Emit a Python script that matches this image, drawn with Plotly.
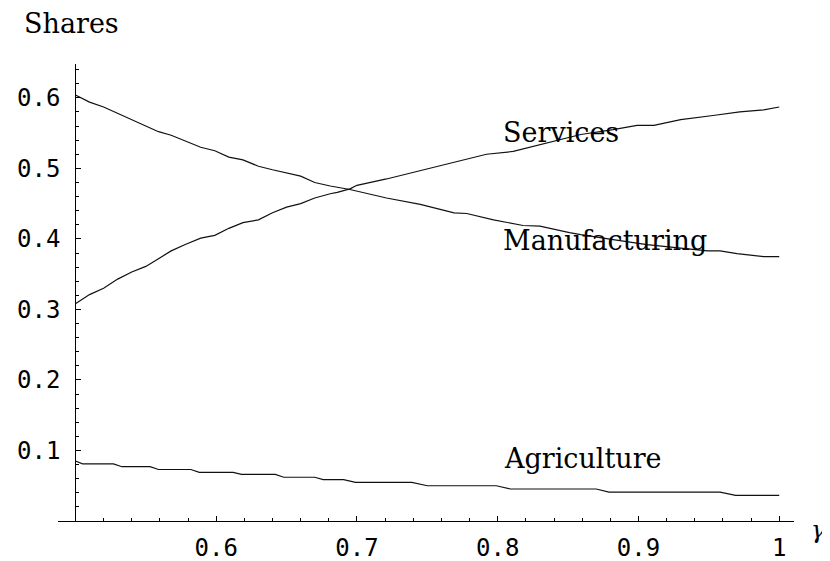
import plotly.graph_objects as go

# ---- data ----
mfg_gamma = [0.500, 0.510, 0.520, 0.530, 0.540, 0.550, 0.559, 0.568, 0.578, 0.589,
             0.599, 0.609, 0.619, 0.630, 0.640, 0.650, 0.660, 0.670, 0.681, 0.695,
             0.721, 0.745, 0.769, 0.778, 0.797, 0.818, 0.830, 0.851, 0.859, 0.882,
             0.906, 0.930, 0.949, 0.958, 0.970, 0.989, 1.000]
mfg_share = [0.604, 0.594, 0.587, 0.578, 0.569, 0.560, 0.552, 0.547, 0.539, 0.530,
             0.525, 0.516, 0.512, 0.503, 0.498, 0.493, 0.489, 0.480, 0.475, 0.470,
             0.458, 0.449, 0.437, 0.436, 0.427, 0.419, 0.418, 0.409, 0.406, 0.399,
             0.392, 0.387, 0.383, 0.383, 0.379, 0.375, 0.375]

srv_gamma = [0.500, 0.510, 0.520, 0.530, 0.540, 0.550, 0.559, 0.568, 0.578, 0.589,
             0.599, 0.609, 0.619, 0.630, 0.640, 0.650, 0.660, 0.670, 0.681, 0.686,
             0.695, 0.700, 0.721, 0.745, 0.769, 0.792, 0.811, 0.835, 0.859, 0.882,
             0.899, 0.911, 0.930, 0.953, 0.972, 0.989, 1.000]
srv_share = [0.308, 0.321, 0.330, 0.343, 0.353, 0.361, 0.372, 0.383, 0.392, 0.401,
             0.405, 0.415, 0.423, 0.427, 0.437, 0.445, 0.450, 0.458, 0.464, 0.466,
             0.471, 0.476, 0.485, 0.497, 0.509, 0.520, 0.524, 0.536, 0.548, 0.555,
             0.561, 0.561, 0.569, 0.575, 0.580, 0.583, 0.587]

agr_gamma = [0.500, 0.505, 0.527, 0.533, 0.553, 0.559, 0.582, 0.588, 0.612, 0.618,
             0.642, 0.648, 0.670, 0.676, 0.6905, 0.699, 0.739, 0.750, 0.799, 0.809,
             0.870, 0.879, 0.958, 0.969, 1.000]
agr_share = [0.085, 0.081, 0.081, 0.077, 0.077, 0.073, 0.073, 0.069, 0.069, 0.066,
             0.066, 0.062, 0.062, 0.0586, 0.0586, 0.0548, 0.0548, 0.050, 0.050, 0.0454,
             0.0454, 0.041, 0.041, 0.0363, 0.0363]

series_names = ["Manufacturing", "Services", "Agriculture"]
label_x = [0.802, 0.802, 0.803]
label_y = [0.398, 0.551, 0.088]

x_ticks = [0.6, 0.7, 0.8, 0.9, 1.0]
x_ticktext = ["0.6", "0.7", "0.8", "0.9", "1"]
y_ticks = [0.1, 0.2, 0.3, 0.4, 0.5, 0.6]
y_ticktext = ["0.1", "0.2", "0.3", "0.4", "0.5", "0.6"]
x_minor = [round(0.52 + 0.02 * i, 2) for i in range(25)]
y_minor = [round(0.02 * i, 2) for i in range(1, 33)]

fig = go.Figure()
for gx, gy in [(mfg_gamma, mfg_share), (srv_gamma, srv_share), (agr_gamma, agr_share)]:
    fig.add_trace(go.Scatter(x=gx, y=gy, mode="lines",
                             line=dict(color="#111111", width=1.2),
                             showlegend=False, hoverinfo="skip"))

label_font = dict(family="DejaVu Serif", size=27, color="black")
for name, lx, ly in zip(series_names, label_x, label_y):
    fig.add_annotation(x=lx, y=ly, xref="x", yref="y", text=name, showarrow=False,
                       xanchor="left", yanchor="middle", font=label_font)

fig.add_annotation(x=-0.049, y=1.088, xref="paper", yref="paper", text="Shares",
                   showarrow=False, xanchor="left", yanchor="middle", font=label_font)
fig.add_annotation(x=1.02, y=-0.02, xref="paper", yref="paper", text="γ",
                   showarrow=False, xanchor="left", yanchor="middle",
                   font=dict(family="DejaVu Serif", size=24, color="black", style="italic"))

tick_font = dict(family="DejaVu Sans Mono", size=24, color="black")
fig.update_layout(
    width=830, height=561,
    margin=dict(l=50, r=44, t=56, b=48),
    paper_bgcolor="white", plot_bgcolor="white",
    xaxis=dict(range=[0.4876, 1.0105], showgrid=False, zeroline=False, automargin=False,
               showline=True, linecolor="black", linewidth=1,
               tickmode="array", tickvals=x_ticks, ticktext=x_ticktext,
               ticks="inside", ticklen=5, tickcolor="black", tickwidth=1,
               tickfont=tick_font, ticklabelstandoff=5,
               minor=dict(tickmode="array", tickvals=x_minor, ticks="inside",
                          ticklen=3, tickcolor="black", tickwidth=1, showgrid=False),
               anchor="y"),
    yaxis=dict(range=[0, 0.648], showgrid=False, zeroline=False, automargin=False,
               showline=True, linecolor="black", linewidth=1,
               tickmode="array", tickvals=y_ticks, ticktext=y_ticktext,
               ticks="inside", ticklen=5, tickcolor="black", tickwidth=1,
               tickfont=tick_font, ticklabelstandoff=10,
               minor=dict(tickmode="array", tickvals=y_minor, ticks="inside",
                          ticklen=3, tickcolor="black", tickwidth=1, showgrid=False),
               anchor="free", position=0.0234),
)

fig.write_html("out.html")
